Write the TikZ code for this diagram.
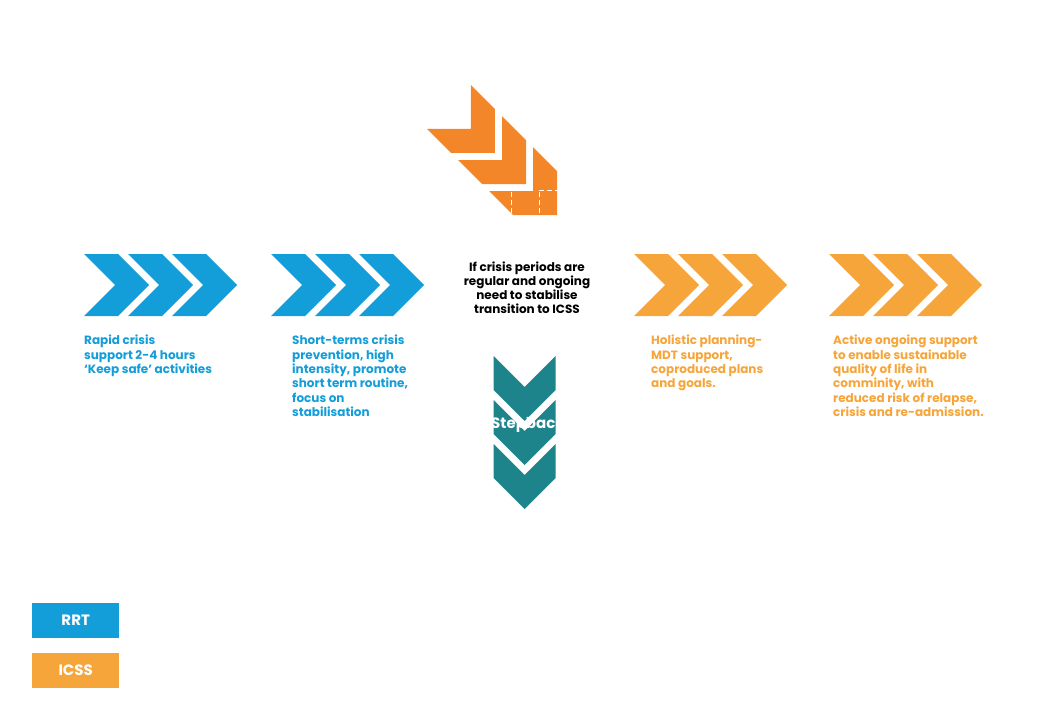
\documentclass[tikz,border=0pt]{standalone}
\usepackage{fontspec}
\setmainfont{Poppins}
\definecolor{rrtblue}{HTML}{139DD9}
\definecolor{icssorange}{HTML}{F6A53A}
\definecolor{darkorange}{HTML}{F4862A}
\definecolor{tealc}{HTML}{1E848B}
\tikzset{
  chevgroup/.pic={
    \foreach \i in {0,1,2}{
      \fill[pic actions] (44*\i,31) -- ++(34,0) -- ++(31,-31) -- ++(-31,-31) -- ++(-34,0) -- ++(31,31) -- cycle;
    }
  },
  desc/.style={anchor=north west, inner sep=0pt, align=left, font=\fontsize{12}{14.3}\selectfont\bfseries},
  legendbox/.style={minimum width=87pt, minimum height=35pt, inner sep=0pt, anchor=north west, text=white, font=\fontsize{15}{16}\selectfont\bfseries}
}
\begin{document}
\begin{tikzpicture}[x=1pt,y=-1pt]
\useasboundingbox (0,0) rectangle (1048,711);
\fill[white] (0,0) rectangle (1048,711);
% horizontal chevron groups
\pic[fill=rrtblue] (g1) at (84,285) {chevgroup};
\pic[fill=rrtblue] (g2) at (271,285) {chevgroup};
\pic[fill=icssorange] (g3) at (634,285) {chevgroup};
\pic[fill=icssorange] (g4) at (829,285) {chevgroup};
% diagonal step up group
\pic[fill=darkorange, rotate=-45] (g5) at (449,107) {chevgroup};
\draw[white, line width=0.8pt, dash pattern=on 5pt off 3pt] (511,190) -- (531,190) (539,190) -- (557,190) (511,192) -- (511,214) (539,192) -- (539,214);
% vertical step back group
\pic[fill=tealc, rotate=-90] (g6) at (524.5,356) {chevgroup};
\node[anchor=base west, inner sep=0pt, text=white, font=\fontsize{15}{17}\selectfont\bfseries] (stepback) at (491,428) {Stepback};
% descriptions
\node[desc, text=rrtblue] (d1) at (84,335) {Rapid crisis\\support 2-4 hours\\‘Keep safe’ activities};
\node[desc, text=rrtblue] (d2) at (292,335) {Short-terms crisis\\prevention, high\\intensity, promote\\short term routine,\\focus on\\stabilisation};
\node[anchor=north, inner sep=0pt, align=center, font=\fontsize{12}{14}\selectfont\bfseries, text=black] (mid) at (527,262) {If crisis periods are\\regular and ongoing\\need to stabilise\\transition to ICSS};
\node[desc, text=icssorange] (d3) at (651,335) {Holistic planning-\\MDT support,\\coproduced plans\\and goals.};
\node[desc, text=icssorange] (d4) at (833,335) {Active ongoing support\\to enable sustainable\\quality of life in\\comminity, with\\reduced risk of relapse,\\crisis and re-admission.};
% legend
\node[legendbox, fill=rrtblue] (rrt) at (32,603) {RRT};
\node[legendbox, fill=icssorange] (icss) at (32,653) {ICSS};
\end{tikzpicture}
\end{document}
